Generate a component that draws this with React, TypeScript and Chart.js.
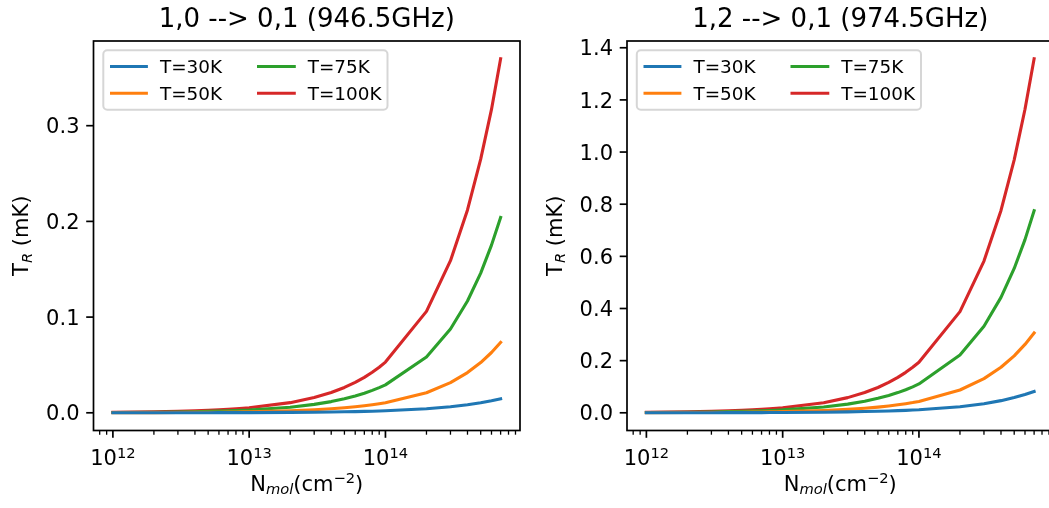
import React, { useEffect, useRef } from "react";
import { Chart, registerables } from "chart.js";

Chart.register(...registerables);

// ---------- data ----------
const N_MOL = [
  1e12, 2e12, 3e12, 4e12, 5e12, 6e12, 7e12, 8e12, 9e12,
  1e13, 2e13, 3e13, 4e13, 5e13, 6e13, 7e13, 8e13, 9e13,
  1e14, 2e14, 3e14, 4e14, 5e14, 6e14, 7e14,
];

const SERIES_LABELS = ["T=30K", "T=50K", "T=75K", "T=100K"];
const SERIES_COLORS = ["#1f77b4", "#ff7f0e", "#2ca02c", "#d62728"];

// 1,0 --> 0,1 (946.5GHz)
const L_T30 = [
  0.00002, 0.00004, 0.00006, 0.00008, 0.0001, 0.00013, 0.00015, 0.00017, 0.00019,
  0.00021, 0.00042, 0.00063, 0.00084, 0.00105, 0.00126, 0.00147, 0.00168, 0.00189,
  0.0021, 0.0042, 0.0063, 0.0084, 0.0105, 0.0126, 0.0147,
];
const L_T50 = [
  0.0001, 0.00021, 0.00032, 0.00042, 0.00053, 0.00063, 0.00074, 0.00084, 0.00095,
  0.00105, 0.0021, 0.00315, 0.0042, 0.00525, 0.0063, 0.00735, 0.0084, 0.00945,
  0.0105, 0.021, 0.0315, 0.042, 0.0525, 0.063, 0.0735,
];
const L_T75 = [
  0.00029, 0.00058, 0.00088, 0.00117, 0.00146, 0.00175, 0.00204, 0.00234, 0.00263,
  0.0029, 0.0058, 0.0088, 0.0117, 0.0146, 0.0175, 0.0204, 0.0234, 0.0263,
  0.0292, 0.0584, 0.0876, 0.1168, 0.146, 0.1752, 0.204,
];
const L_T100 = [
  0.00053, 0.00106, 0.00159, 0.00212, 0.00265, 0.00317, 0.0037, 0.00423, 0.00476,
  0.0053, 0.0106, 0.0159, 0.0212, 0.0265, 0.0317, 0.037, 0.0423, 0.0476,
  0.053, 0.106, 0.159, 0.212, 0.265, 0.317, 0.37,
];

// 1,2 --> 0,1 (974.5GHz)
const R_T30 = [
  0.00012, 0.00023, 0.00035, 0.00047, 0.00058, 0.0007, 0.00082, 0.00093, 0.00105,
  0.00117, 0.00233, 0.0035, 0.0047, 0.0058, 0.007, 0.0082, 0.0093, 0.0105,
  0.0117, 0.0233, 0.035, 0.0466, 0.0583, 0.0699, 0.0815,
];
const R_T50 = [
  0.00044, 0.00087, 0.00131, 0.00175, 0.00219, 0.00262, 0.00306, 0.0035, 0.00393,
  0.0044, 0.0087, 0.0131, 0.0175, 0.0219, 0.0262, 0.0306, 0.035, 0.0393,
  0.0437, 0.0874, 0.1311, 0.1748, 0.2185, 0.2622, 0.306,
];
const R_T75 = [
  0.0011, 0.0022, 0.0033, 0.0044, 0.0055, 0.0066, 0.0077, 0.0089, 0.01,
  0.0111, 0.0221, 0.0332, 0.0443, 0.0554, 0.0664, 0.0775, 0.0886, 0.0996,
  0.1107, 0.2214, 0.3321, 0.4428, 0.5535, 0.6642, 0.775,
];
const R_T100 = [
  0.0019, 0.0039, 0.0058, 0.0078, 0.0097, 0.0116, 0.0136, 0.0155, 0.0175,
  0.0194, 0.0388, 0.0582, 0.0776, 0.097, 0.1164, 0.1358, 0.1552, 0.1746,
  0.194, 0.388, 0.582, 0.776, 0.97, 1.164, 1.358,
];

const LEFT_TITLE = "1,0 --> 0,1 (946.5GHz)";
const RIGHT_TITLE = "1,2 --> 0,1 (974.5GHz)";
const LEFT_Y_TICKS = [0.0, 0.1, 0.2, 0.3];
const RIGHT_Y_TICKS = [0.0, 0.2, 0.4, 0.6, 0.8, 1.0, 1.2, 1.4];
const X_MAJOR_EXPONENTS = [12, 13, 14];

// ---------- drawing helpers ----------
const FONT = '"DejaVu Sans", "Liberation Sans", sans-serif';
type Run = { text: string; size: number; italic?: boolean; dy?: number };
const fontOf = (r: Run) => `${r.italic ? "italic " : ""}${r.size}px ${FONT}`;

function drawRuns(ctx: CanvasRenderingContext2D, runs: Run[], x: number, y: number, align: "left" | "center" | "right") {
  const widths = runs.map((r) => {
    ctx.font = fontOf(r);
    return ctx.measureText(r.text).width;
  });
  const total = widths.reduce((s, w) => s + w, 0);
  let cx = align === "center" ? x - total / 2 : align === "right" ? x - total : x;
  ctx.textAlign = "left";
  ctx.textBaseline = "alphabetic";
  runs.forEach((r, i) => {
    ctx.font = fontOf(r);
    ctx.fillText(r.text, cx, y + (r.dy || 0));
    cx += widths[i];
  });
}

const TICK_FS = 21;
const SUP_FS = 14.7;

function makeAxesPlugin(title: string, yTicks: number[]) {
  return {
    id: "mplAxes",
    afterDraw(chart: any) {
      const ctx: CanvasRenderingContext2D = chart.ctx;
      const a = chart.chartArea;
      const xs = chart.scales.x;
      const ys = chart.scales.y;
      const cxMid = (a.left + a.right) / 2;
      const cyMid = (a.top + a.bottom) / 2;
      ctx.save();
      ctx.fillStyle = "#000";
      ctx.strokeStyle = "#000";

      // x ticks
      ctx.lineCap = "butt";
      for (let e = 11; e <= 15; e++) {
        for (let k = 1; k <= 9; k++) {
          const v = k * Math.pow(10, e);
          if (v < xs.min || v > xs.max) continue;
          const px = xs.getPixelForValue(v);
          const major = k === 1;
          ctx.lineWidth = major ? 1.7 : 1.3;
          ctx.beginPath();
          ctx.moveTo(px, a.bottom);
          ctx.lineTo(px, a.bottom + (major ? 7.3 : 4.2));
          ctx.stroke();
        }
      }
      // x tick labels
      X_MAJOR_EXPONENTS.forEach((e) => {
        const v = Math.pow(10, e);
        if (v < xs.min || v > xs.max) return;
        const px = xs.getPixelForValue(v);
        drawRuns(ctx, [
          { text: "10", size: TICK_FS },
          { text: String(e), size: SUP_FS, dy: -7 },
        ], px, 464.5, "center");
      });

      // y ticks + labels
      yTicks.forEach((v) => {
        const py = ys.getPixelForValue(v);
        ctx.lineWidth = 1.7;
        ctx.beginPath();
        ctx.moveTo(a.left - 7.3, py);
        ctx.lineTo(a.left, py);
        ctx.stroke();
        ctx.font = `${TICK_FS}px ${FONT}`;
        ctx.textAlign = "right";
        ctx.textBaseline = "alphabetic";
        ctx.fillText(v.toFixed(1), a.left - 14, py + 7.6);
      });

      // spines
      ctx.lineWidth = 1.7;
      ctx.strokeRect(a.left, a.top, a.right - a.left, a.bottom - a.top);

      // title
      drawRuns(ctx, [{ text: title, size: 26 }], cxMid, 27, "center");

      // x label
      drawRuns(ctx, [
        { text: "N", size: 21 },
        { text: "mol", size: SUP_FS, italic: true, dy: 3.5 },
        { text: "(cm", size: 21 },
        { text: "\u22122", size: SUP_FS, dy: -8 },
        { text: ")", size: 21 },
      ], cxMid, 490.5, "center");

      // y label (rotated)
      ctx.save();
      ctx.translate(a.left - 65.3, cyMid);
      ctx.rotate(-Math.PI / 2);
      drawRuns(ctx, [
        { text: "T", size: 21 },
        { text: "R", size: SUP_FS, italic: true, dy: 3.5 },
        { text: " (mK)", size: 21 },
      ], 0, 0, "center");
      ctx.restore();

      // legend
      const bx = a.left + 9.8;
      const by = a.top + 9.3;
      ctx.beginPath();
      (ctx as any).roundRect(bx, by, 284.2, 59.4, 4);
      ctx.fillStyle = "rgba(255,255,255,0.8)";
      ctx.fill();
      ctx.lineWidth = 2;
      ctx.strokeStyle = "rgba(204,204,204,0.8)";
      ctx.stroke();
      const rows = [a.top + 25.5, a.top + 52.2];
      const cols = [
        { h0: 16.5, h1: 54.4, t: 66.4 },
        { h0: 163.5, h1: 202.3, t: 214.2 },
      ];
      SERIES_LABELS.forEach((lab, i) => {
        const col = cols[Math.floor(i / 2)];
        const ry = rows[i % 2];
        ctx.strokeStyle = SERIES_COLORS[i];
        ctx.lineWidth = 3.1;
        ctx.beginPath();
        ctx.moveTo(a.left + col.h0, ry);
        ctx.lineTo(a.left + col.h1, ry);
        ctx.stroke();
        ctx.fillStyle = "#000";
        ctx.font = `18.4px ${FONT}`;
        ctx.textAlign = "left";
        ctx.textBaseline = "alphabetic";
        ctx.fillText(lab, a.left + col.t, ry + 6.7);
      });

      ctx.restore();
    },
  };
}

type PanelProps = {
  title: string;
  series: number[][];
  yTicks: number[];
  left: number;
  width: number;
  padding: { left: number; right: number; top: number; bottom: number };
};

function Panel({ title, series, yTicks, left, width, padding }: PanelProps) {
  const ref = useRef<HTMLCanvasElement | null>(null);
  useEffect(() => {
    if (!ref.current) return;
    const lo = Math.log10(N_MOL[0]);
    const hi = Math.log10(N_MOL[N_MOL.length - 1]);
    const xPad = 0.05 * (hi - lo);
    const yMaxData = Math.max(...series.map((s) => Math.max(...s)));
    const yMinData = Math.min(0, ...series.map((s) => Math.min(...s)));
    const yPad = 0.05 * (yMaxData - yMinData);
    const chart = new Chart(ref.current, {
      type: "line",
      data: {
        datasets: series.map((vals, i) => ({
          label: SERIES_LABELS[i],
          data: N_MOL.map((x, j) => ({ x, y: vals[j] })),
          borderColor: SERIES_COLORS[i],
          backgroundColor: SERIES_COLORS[i],
          borderWidth: 3.1,
          pointRadius: 0,
          tension: 0,
          fill: false,
          borderJoinStyle: "round",
          borderCapStyle: "square",
        })),
      },
      options: {
        responsive: false,
        maintainAspectRatio: false,
        animation: false,
        events: [],
        layout: { padding },
        plugins: {
          legend: { display: false },
          title: { display: false },
          tooltip: { enabled: false },
        },
        scales: {
          x: {
            type: "logarithmic",
            min: Math.pow(10, lo - xPad),
            max: Math.pow(10, hi + xPad),
            display: false,
          },
          y: {
            type: "linear",
            min: yMinData - yPad,
            max: yMaxData + yPad,
            display: false,
          },
        },
      } as any,
      plugins: [makeAxesPlugin(title, yTicks) as any],
    });
    return () => chart.destroy();
  }, []);
  return (
    <canvas
      ref={ref}
      width={width}
      height={508}
      style={{ position: "absolute", left, top: 0, width, height: 508 }}
    />
  );
}

export default function App() {
  return (
    <div
      style={{
        position: "absolute",
        left: 0,
        top: 0,
        width: 1049,
        height: 508,
        overflow: "hidden",
        background: "#fff",
      }}
    >
      <Panel
        title={LEFT_TITLE}
        series={[L_T30, L_T50, L_T75, L_T100]}
        yTicks={LEFT_Y_TICKS}
        left={0}
        width={525}
        padding={{ left: 93.5, right: 5, top: 41, bottom: 77.5 }}
      />
      <Panel
        title={RIGHT_TITLE}
        series={[R_T30, R_T50, R_T75, R_T100]}
        yTicks={RIGHT_Y_TICKS}
        left={525}
        width={540}
        padding={{ left: 102, right: 11.5, top: 41, bottom: 77.5 }}
      />
    </div>
  );
}
